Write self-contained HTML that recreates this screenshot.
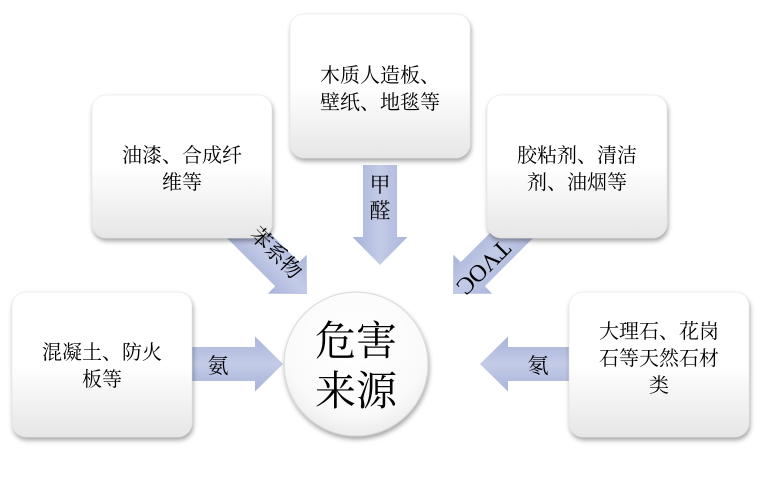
<!DOCTYPE html>
<html><head><meta charset="utf-8"><style>
body{margin:0;background:#fff;width:769px;height:477px;overflow:hidden}
svg{display:block}
text{font-family:"Liberation Serif","Noto Serif CJK SC",serif;fill:#000}
</style></head><body>
<svg width="769" height="477" viewBox="0 0 769 477" xmlns="http://www.w3.org/2000/svg">
<defs>
<linearGradient id="bx" x1="0" y1="0" x2="0" y2="1"><stop offset="0" stop-color="#fff"/><stop offset="0.5" stop-color="#fff"/><stop offset="1" stop-color="#e6e6e6"/></linearGradient>
<linearGradient id="ar" x1="0" y1="0" x2="0" y2="1"><stop offset="0" stop-color="#aab5da"/><stop offset="0.5" stop-color="#c3cbe7"/><stop offset="1" stop-color="#a7b2d8"/></linearGradient>
<radialGradient id="cg" cx="0.5" cy="0.35" r="0.7"><stop offset="0" stop-color="#fff"/><stop offset="0.7" stop-color="#fafafa"/><stop offset="1" stop-color="#e8e8e8"/></radialGradient>
<filter id="sh" x="-20%" y="-20%" width="140%" height="140%"><feDropShadow dx="1" dy="3" stdDeviation="2.5" flood-color="#000" flood-opacity="0.35"/></filter>
<path id="arw" d="M-100,-17 L-28,-17 L-28,-27.5 L0,0 L-28,27.5 L-28,17 L-100,17 Z"/>
</defs>
<use href="#arw" fill="url(#ar)" transform="translate(283,364)"/>
<use href="#arw" fill="url(#ar)" transform="translate(480,364) rotate(180)"/>
<use href="#arw" fill="url(#ar)" transform="translate(380,265) rotate(90)"/>
<use href="#arw" fill="url(#ar)" transform="translate(307,294) rotate(45)"/>
<use href="#arw" fill="url(#ar)" transform="translate(453,294) rotate(135)"/>
<g filter="url(#sh)" fill="url(#bx)" stroke="#e0e0e0" stroke-width="0.5">
<rect x="12" y="292" width="180" height="145" rx="14"/>
<rect x="92" y="95" width="180" height="143" rx="14"/>
<rect x="290" y="14" width="180" height="144" rx="14"/>
<rect x="487" y="95" width="180" height="143" rx="14"/>
<rect x="569" y="292" width="180" height="145" rx="14"/>
</g>
<circle cx="356" cy="364" r="72" fill="url(#cg)" stroke="#d8d8d8" stroke-width="1" filter="url(#sh)"/>
<g font-size="20" text-anchor="middle">
<text x="102" y="359">混凝土、防火</text><text x="102" y="386">板等</text>
<text x="182" y="162">油漆、合成纤</text><text x="182" y="189">维等</text>
<text x="380" y="82">木质人造板、</text><text x="380" y="109">壁纸、地毯等</text>
<text x="577" y="162">胶粘剂、清洁</text><text x="577" y="189">剂、油烟等</text>
<text x="659" y="338">大理石、花岗</text><text x="659" y="365">石等天然石材</text><text x="659" y="392">类</text>
</g>
<g font-size="21" text-anchor="middle">
<text x="218" y="373">氨</text>
<text x="538" y="373">氡</text>
<text x="380" y="192">甲</text><text x="380" y="218">醛</text>
<text transform="translate(271,258) rotate(45)">苯系物</text>
<text transform="translate(478,262) rotate(135)" font-size="24" font-family="Liberation Sans, sans-serif">TVOC</text>
</g>
<g font-size="41" text-anchor="middle">
<text x="356" y="355">危害</text>
<text x="356" y="405">来源</text>
</g>
</svg>
</body></html>
